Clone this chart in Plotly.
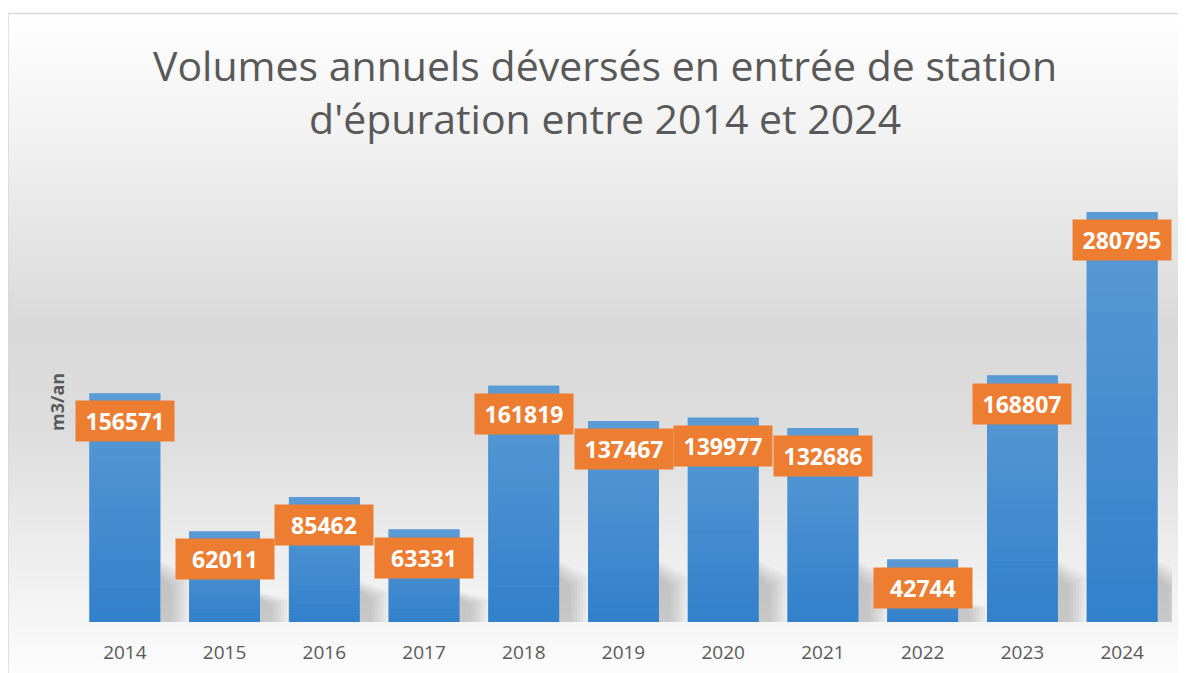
import plotly.graph_objects as go
import numpy as np

years = ["2014", "2015", "2016", "2017", "2018", "2019", "2020", "2021", "2022", "2023", "2024"]
volumes = [156571, 62011, 85462, 63331, 161819, 137467, 139977, 132686, 42744, 168807, 280795]
title_text = "Volumes annuels déversés en entrée de station<br>d'épuration entre 2014 et 2024"
y_label = "m3/an"

W, H = 1186, 673
OFF = 8  # page body margin compensation


def px(x):
    return (x - OFF) / W


def py(y):
    return 1 - (y - OFF) / H


BAR_W = 0.71
fig = go.Figure()
fig.add_trace(go.Bar(
    x=years, y=volumes, width=BAR_W,
    marker=dict(color="#4A8ED3", line=dict(width=0)),
    hoverinfo="x+y",
))

shapes = []
# background gradient (style only)
stops_y = [13, 150, 330, 430, 560, 625, 673]
stops_c = [255, 240, 217, 221, 238, 246, 252]
step = 4
for y0 in range(13, H + OFF, step):
    yc = y0 + step / 2
    g = int(round(np.interp(yc, stops_y, stops_c)))
    shapes.append(dict(type="rect", xref="paper", yref="paper",
                       x0=px(8), x1=1.02, y0=py(y0 + step), y1=py(y0),
                       fillcolor=f"rgb({g},{g},{g})", line=dict(width=0), layer="below"))
shapes.append(dict(type="rect", xref="paper", yref="paper",
                   x0=px(8), x1=1.02, y0=-0.05, y1=py(13.5),
                   fillcolor="rgba(0,0,0,0)", line=dict(color="#d9d9d9", width=1.5),
                   layer="below"))

# soft slanted shadows to the right of each bar (decorative)
for i, v in enumerate(volumes):
    h = min(0.33 * v, 42000)
    xr = i + BAR_W / 2
    for k in range(7):
        s = 1 - k * 0.1
        dw = 0.30 * s
        hh = h * (0.6 + 0.4 * s)
        path = (f"M {xr},{0} L {xr + dw},{0} L {xr + dw},{hh * 0.75} "
                f"L {xr},{hh} Z")
        shapes.append(dict(type="path", xref="x", yref="y", path=path,
                           fillcolor="rgba(0,0,0,0.028)", line=dict(width=0),
                           layer="below"))

# vertical gradient on bars (overlay bands)
top_c = np.array([91, 155, 213])
bot_c = np.array([49, 128, 203])
nb = 20
for i, v in enumerate(volumes):
    for k in range(nb):
        t = (k + 0.5) / nb
        c = (bot_c + (top_c - bot_c) * t).round().astype(int)
        shapes.append(dict(type="rect", xref="x", yref="y",
                           x0=i - BAR_W / 2, x1=i + BAR_W / 2,
                           y0=v * k / nb, y1=v * (k + 1) / nb,
                           fillcolor=f"rgb({c[0]},{c[1]},{c[2]})",
                           line=dict(width=0), layer="above"))

annotations = []
for i, v in enumerate(volumes):
    annotations.append(dict(
        x=i, y=v, xref="x", yref="y", yshift=-28,
        text=f"<b>{v}</b>", showarrow=False,
        font=dict(family="Open Sans", size=23, color="white"),
        bgcolor="#ED7D31", borderpad=7, width=84, height=26,
    ))

annotations.append(dict(
    x=px(605), y=py(91), xref="paper", yref="paper",
    text=title_text, showarrow=False,
    font=dict(family="Open Sans", size=41, color="#595959"),
    align="center", yanchor="middle", xanchor="center",
))
annotations.append(dict(
    x=px(57), y=py(402), xref="paper", yref="paper",
    text=f"<b>{y_label}</b>", showarrow=False, textangle=-90,
    font=dict(family="Open Sans", size=18, color="#595959"),
    xanchor="center", yanchor="middle",
))

fig.update_layout(
    width=W, height=H,
    margin=dict(l=0, r=0, t=0, b=0, autoexpand=False),
    paper_bgcolor="white",
    plot_bgcolor="rgba(0,0,0,0)",
    showlegend=False,
    shapes=shapes,
    annotations=annotations,
    xaxis=dict(type="category", domain=[px(75), px(1172)], range=[-0.5, 10.5],
               showgrid=False, showline=False,
               ticks="", tickfont=dict(family="Open Sans", size=19, color="#595959"),
               ticklabelstandoff=17, automargin=False),
    yaxis=dict(domain=[py(622), py(184)], range=[0, 300000], automargin=False,
               showgrid=False, showticklabels=False, zeroline=False, showline=False),
)

fig.write_html("out.html")
